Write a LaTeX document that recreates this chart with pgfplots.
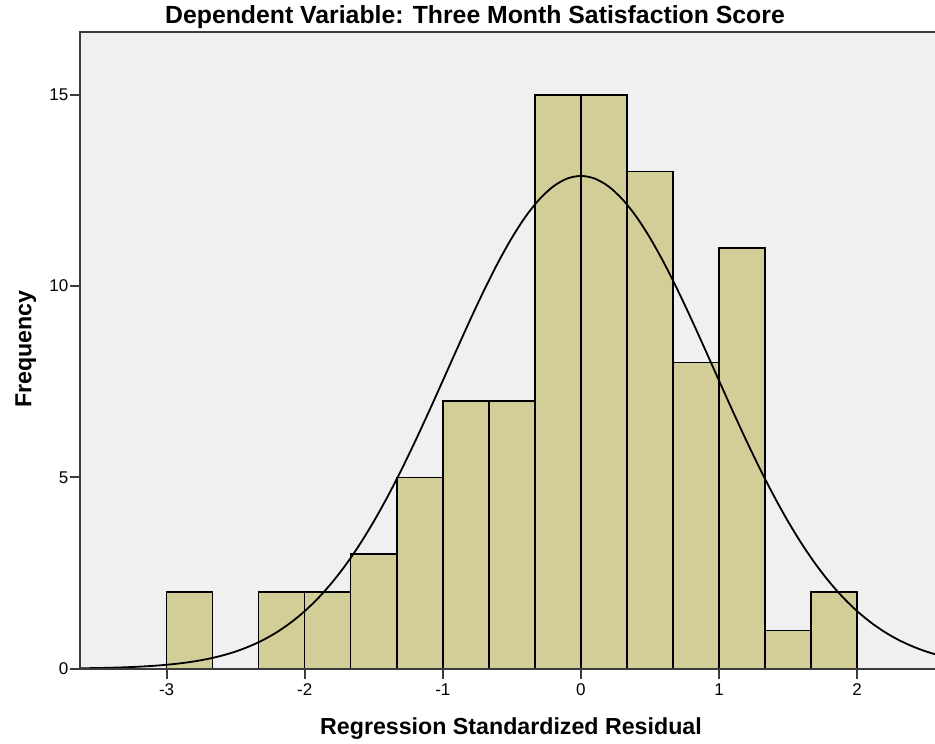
\documentclass[border=0pt]{standalone}
\usepackage{pgfplots}
\pgfplotsset{compat=1.18}
\usepackage{fontspec}
\setmainfont{Liberation Sans}
\definecolor{bgc}{RGB}{240,240,240}
\definecolor{barfill}{RGB}{211,206,151}
\definecolor{axc}{RGB}{60,60,60}
\begin{document}
\begin{tikzpicture}
\useasboundingbox (-40pt,-37.5pt) rectangle (427.5pt,334.35pt);
\begin{axis}[
  at={(0,0)}, anchor=south west,
  scale only axis, width=432pt, height=318.5pt,
  xmin=-3.627, xmax=2.629, ymin=0, ymax=16.65,
  axis background/.style={fill=bgc},
  axis line style={axc, line width=1pt},
  xtick={-3,-2,-1,0,1,2}, ytick={0,5,10,15},
  xtick pos=bottom, ytick pos=left,
  tick align=outside, major tick length=5pt,
  tick style={axc, line width=1pt},
  /pgf/number format/assume math mode=true,
  ticklabel style={font=\fontsize{8.5}{10}\selectfont},
  yticklabel style={inner xsep=0.6pt},
  xticklabel style={inner ysep=2.5pt},
  axis on top,
]
\addplot[ybar interval, fill=barfill, draw=black, line width=0.75pt] coordinates {
(-3,2) (-2.6667,0) (-2.3333,2) (-2,2) (-1.6667,3) (-1.3333,5) (-1,7) (-0.6667,7)
(-0.3333,15) (0,15) (0.3333,13) (0.6667,8) (1,11) (1.3333,1) (1.6667,2) (2,0)};
\addplot[black, line width=0.9pt, smooth] coordinates {
(-3.7,0.008) (-3.6,0.012) (-3.5,0.018) (-3.4,0.026) (-3.3,0.037) (-3.2,0.053)
(-3.1,0.074) (-3.0,0.103) (-2.9,0.141) (-2.8,0.191) (-2.7,0.257) (-2.6,0.342)
(-2.5,0.449) (-2.4,0.585) (-2.3,0.752) (-2.2,0.958) (-2.1,1.207) (-2.0,1.504)
(-1.9,1.854) (-1.8,2.262) (-1.7,2.729) (-1.6,3.258) (-1.5,3.848) (-1.4,4.497)
(-1.3,5.198) (-1.2,5.945) (-1.1,6.726) (-1.0,7.529) (-0.9,8.337) (-0.8,9.134)
(-0.7,9.900) (-0.6,10.616) (-0.5,11.262) (-0.4,11.820) (-0.3,12.272) (-0.2,12.606)
(-0.1,12.811) (0,12.88) (0.1,12.811) (0.2,12.606) (0.3,12.272) (0.4,11.820)
(0.5,11.262) (0.6,10.616) (0.7,9.900) (0.8,9.134) (0.9,8.337) (1.0,7.529)
(1.1,6.726) (1.2,5.945) (1.3,5.198) (1.4,4.497) (1.5,3.848) (1.6,3.258)
(1.7,2.729) (1.8,2.262) (1.9,1.854) (2.0,1.504) (2.1,1.207) (2.2,0.958)
(2.3,0.752) (2.4,0.585) (2.5,0.449) (2.6,0.342) (2.7,0.257)};
\end{axis}
\node[anchor=base, font=\fontsize{12.4}{14}\selectfont\bfseries] at (197.5pt,322.5pt) {Dependent Variable: Three Month Satisfaction Score};
\node[anchor=base, font=\fontsize{11.6}{13}\selectfont\bfseries] at (215.5pt,-33pt) {Regression Standardized Residual};
\node[anchor=base, rotate=90, font=\fontsize{11.6}{13}\selectfont\bfseries] at (-24.25pt,159.75pt) {Frequency};
\end{tikzpicture}
\end{document}
